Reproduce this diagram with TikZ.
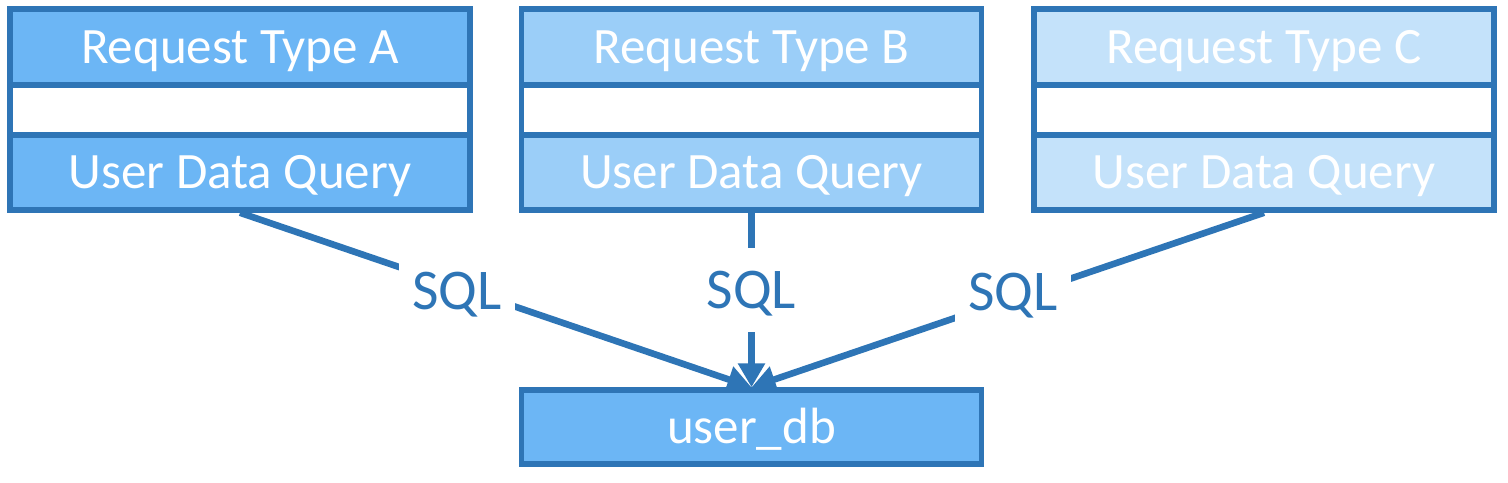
\documentclass[tikz,border=0pt]{standalone}
\usepackage{fontspec}
\setmainfont{Carlito}
\usetikzlibrary{positioning, arrows.meta}
\definecolor{edgeblue}{RGB}{46,117,182}
\definecolor{fillA}{RGB}{108,182,245}
\definecolor{fillB}{RGB}{155,206,248}
\definecolor{fillC}{RGB}{196,226,250}

\begin{document}
\begin{tikzpicture}[x=0.5pt, y=-0.5pt,
	every node/.style={align=center, inner sep=0pt, font=\fontsize{25.5}{30}\selectfont},
	cell/.style={draw=edgeblue, line width=2.75pt, minimum width=230pt, text=white, text height=16.4pt, text depth=0pt},
	headcell/.style={cell, minimum height=38pt},
	spacecell/.style={cell, fill=white, minimum height=25pt},
	querycell/.style={cell, minimum height=37.5pt},
	link/.style={draw=edgeblue, line width=3.3pt, -{Triangle[width=13pt, length=12pt]}},
	sqllabel/.style={fill=white, text=edgeblue, minimum width=58pt, minimum height=42pt, text height=18.5pt, text depth=0pt, font=\fontsize{28.8}{34}\selectfont}]
			\useasboundingbox (0,0) rectangle (1508,482);
			% Request A
			\node[headcell, fill=fillA] (headA) at (240,47) {Request Type A};
			\node[spacecell] (spaceA) at (240,110) {};
			\node[querycell, fill=fillA] (queryA) at (240,172.5) {User Data Query};
			% Request B
			\node[headcell, fill=fillB] (headB) at (751.5,47) {Request Type B};
			\node[spacecell] (spaceB) at (751.5,110) {};
			\node[querycell, fill=fillB] (queryB) at (751.5,172.5) {User Data Query};
			% Request C
			\node[headcell, fill=fillC] (headC) at (1264,47) {Request Type C};
			\node[spacecell] (spaceC) at (1264,110) {};
			\node[querycell, fill=fillC] (queryC) at (1264,172.5) {User Data Query};
			% DB
			\node[cell, fill=fillA, minimum height=37pt] (userdb) at (751.5,427) {user\_db};
			% Arrows
			\draw[link] (queryA.south) -- (userdb.north);
			\draw[link] (queryB.south) -- (userdb.north);
			\draw[link] (queryC.south) -- (userdb.north);
			% Labels
			\node[sqllabel] (sqlA) at (457,291) {SQL};
			\node[sqllabel] (sqlB) at (751.5,290) {SQL};
			\node[sqllabel] (sqlC) at (1013,292) {SQL};
		\end{tikzpicture}
\end{document}
